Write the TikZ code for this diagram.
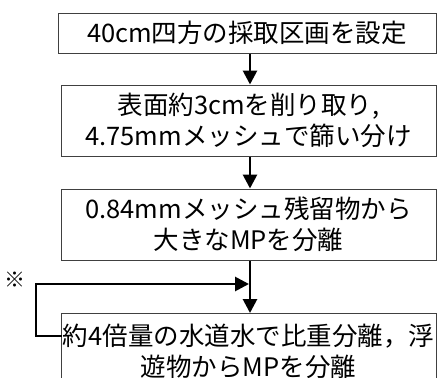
\documentclass[tikz,border=0pt]{standalone}
\usepackage{fontspec}
\setmainfont{Noto Sans CJK JP}
\usetikzlibrary{arrows.meta,calc}
\begin{document}
\begin{tikzpicture}[x=1pt,y=-1pt,
  box/.style={draw=black!75, line width=1pt, inner sep=0pt, align=center,
    font=\fontsize{25.5}{31}\selectfont},
  arr/.style={line width=2.8pt, -{Triangle[length=14pt,width=14pt]}},
  ln/.style={line width=2.8pt}]
\useasboundingbox (0,0) rectangle (437,378);
\begin{scope}
\clip (0,0) rectangle (437,378);
\node[box, minimum width=378pt, minimum height=40pt] (b1) at (247,33) {40cm四方の採取区画を設定};
\node[box, minimum width=375pt, minimum height=71pt] (b2) at (248.5,120.5) {表面約3cmを削り取り,\\4.75mmメッシュで篩い分け};
\node[box, minimum width=375pt, minimum height=71pt] (b3) at (248.5,224.5) {0.84mmメッシュ残留物から\\大きなMPを分離};
\node[box, minimum width=375pt, minimum height=75pt, anchor=north west] (b4) at (61,313) {};
\node[font=\fontsize{25.5}{31}\selectfont, align=center, inner sep=0pt] (t4) at (248.5,351) {約4倍量の水道水で比重分離，浮\\遊物からMPを分離};
\end{scope}
\node[font=\fontsize{21}{21}\selectfont, inner sep=0pt] (kome) at (15,280) {※};
\draw[arr] (b1.south -| 250,0) -- (b2.north -| 250,0);
\draw[arr] (b2.south -| 250,0) -- (b3.north -| 250,0);
\draw[arr] (b3.south -| 250,0) -- (b4.north -| 250,0);
\coordinate (fa) at (36,336);
\coordinate (fb) at (36,284);
\coordinate (fc) at (249,284);
\draw[ln, line cap=rect] (b4.west |- fa) -- (fa) -- (fb) -- ([xshift=-12pt]fc);
\draw[arr] (fb) -- (fc);
\end{tikzpicture}
\end{document}
